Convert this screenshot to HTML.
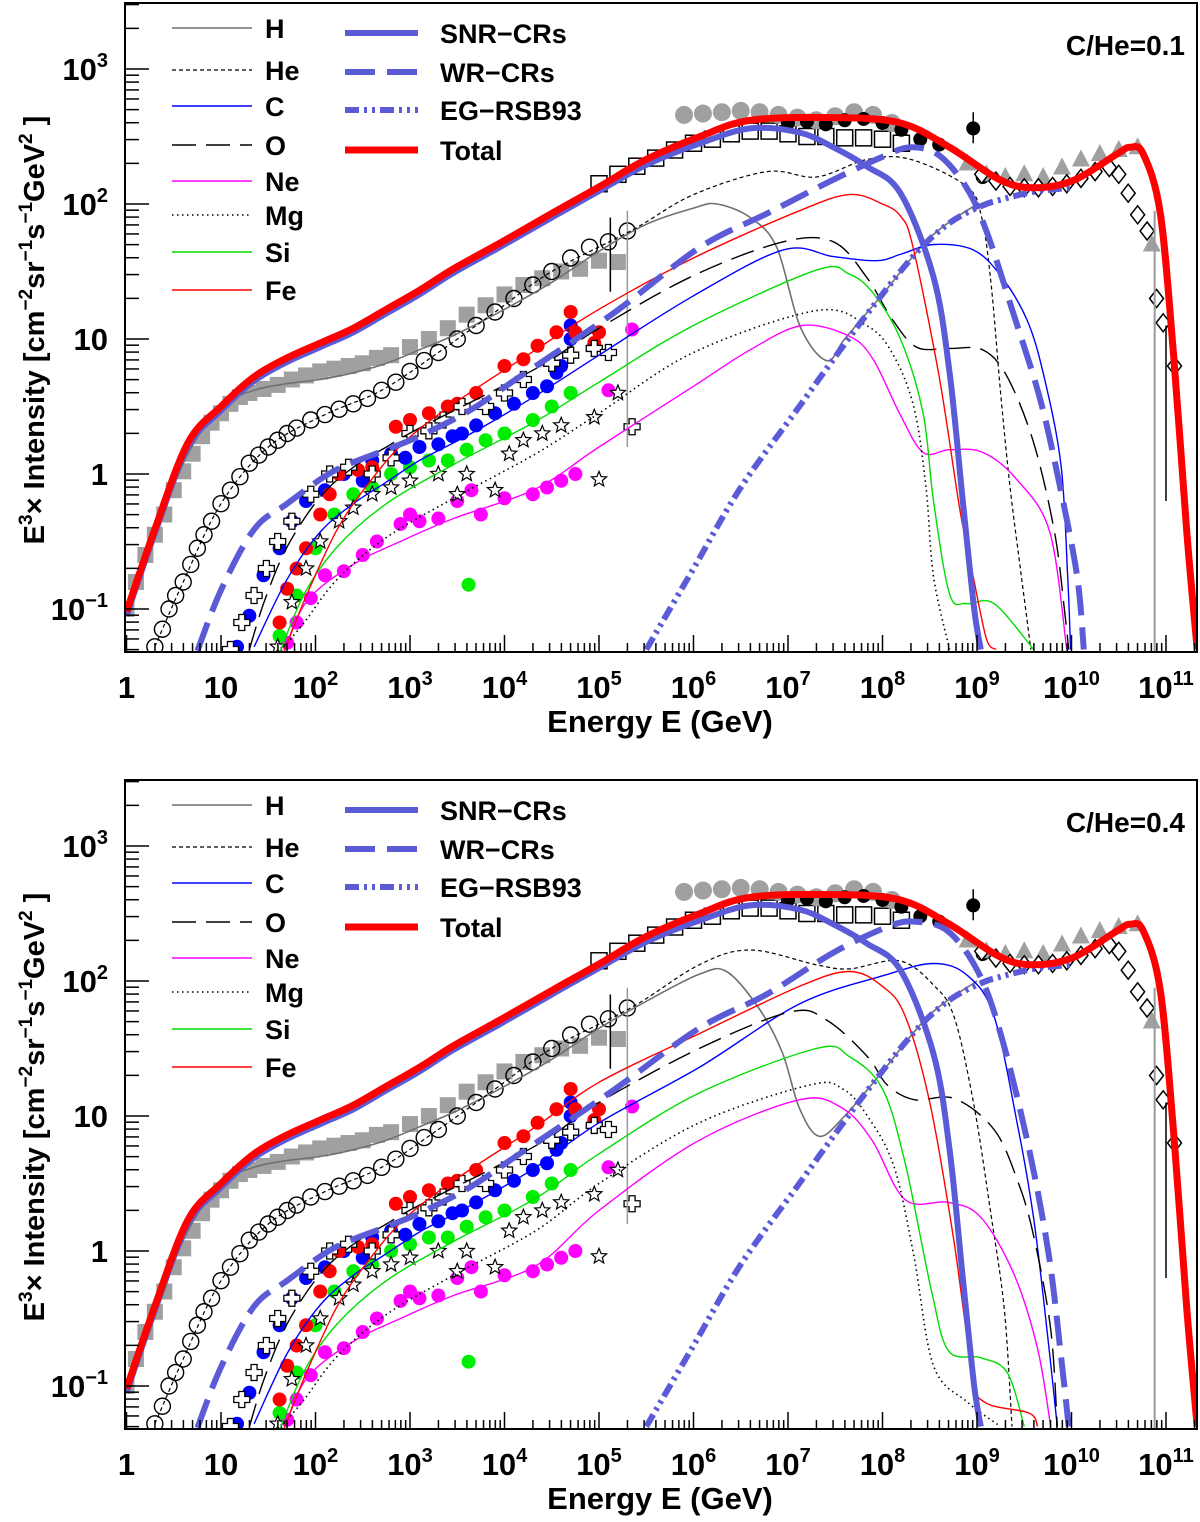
<!DOCTYPE html>
<html><head><meta charset="utf-8"><style>
body{margin:0;background:#fff}
svg text{font-family:"Liberation Sans",Arial,sans-serif;font-weight:bold}
</style></head><body>
<svg id="chart" xmlns="http://www.w3.org/2000/svg" width="1200" height="1517" viewBox="0 0 1200 1517"></svg>
<script>
// ---- shared data: [log10 E, log10 value] ----
const totalTop=[[0,-1.02],[0.3,-0.41],[0.65,0.23],[1.0,0.5],[1.35,0.72],[1.7,0.86],[2.05,0.97],[2.4,1.08],[2.75,1.22],[3.1,1.36],[3.46,1.52],[3.95,1.71],[4.5,1.93],[5.01,2.13],[5.5,2.33],[6.07,2.5],[6.6,2.62],[7.48,2.64],[8.19,2.6],[8.71,2.42],[9.24,2.18],[9.6,2.12],[10.02,2.175],[10.48,2.37],[10.62,2.42],[10.76,2.37],[10.94,1.93],[11.08,0.88],[11.22,-0.43],[11.33,-1.3]];
const snrTop=[[0,-1.05],[0.3,-0.44],[0.65,0.2],[1.0,0.47],[1.35,0.69],[1.7,0.83],[2.05,0.94],[2.4,1.05],[2.75,1.19],[3.1,1.33],[3.46,1.49],[3.95,1.68],[4.5,1.9],[5.01,2.1],[5.5,2.29],[6.07,2.45],[6.6,2.56],[7.12,2.53],[7.48,2.42],[7.83,2.28],[8.19,2.08],[8.54,1.46],[8.71,0.75],[8.85,-0.2],[8.97,-1.0],[9.04,-1.3]];
const wrTop=[[0.75,-1.31],[1.0,-0.86],[1.35,-0.41],[1.7,-0.22],[2.19,0.02],[2.75,0.18],[3.1,0.28],[3.63,0.47],[4.16,0.72],[5.15,1.19],[6.07,1.68],[6.78,1.93],[7.48,2.18],[8.0,2.35],[8.3,2.42],[8.6,2.36],[8.89,2.12],[9.1,1.8],[9.38,1.2],[9.67,0.55],[9.88,-0.1],[10.06,-0.76],[10.13,-1.3]];
const egTop=[[5.5,-1.3],[6,-0.7],[6.5,-0.1],[7.12,0.5],[7.48,0.85],[7.93,1.27],[8.36,1.64],[8.71,1.86],[9.03,1.98],[9.24,2.03],[9.6,2.09],[10.0,2.12]];
const hTop=[[0,-1.02],[0.3,-0.45],[0.65,0.15],[1.0,0.5],[1.35,0.62],[1.7,0.67],[2.05,0.7],[2.4,0.75],[2.75,0.82],[3.1,0.92],[3.5,1.04],[4,1.22],[4.5,1.42],[5,1.65],[5.5,1.85],[6.0,1.97],[6.25,2.0],[6.6,1.9],[6.88,1.68],[7.13,1.09],[7.41,0.84],[7.6,1.0],[8.0,1.33],[8.5,1.75],[9.0,2.0]];
const heTop=[[0.3,-1.28],[0.6,-0.8],[1.0,-0.22],[1.5,0.2],[2.1,0.44],[2.7,0.62],[3.3,0.9],[3.9,1.2],[4.5,1.5],[5.36,1.81],[6.0,2.07],[6.78,2.24],[7.3,2.2],[7.84,2.33],[8.3,2.33],[8.89,2.13],[9.05,1.9],[9.15,1.4],[9.25,0.6],[9.35,-0.1],[9.47,-0.76],[9.57,-1.3]];
const cTop=[[1.35,-1.28],[1.7,-0.78],[2.05,-0.43],[2.4,-0.22],[2.75,-0.06],[3.1,0.1],[3.46,0.23],[3.8,0.36],[4.33,0.58],[5,0.88],[6,1.32],[6.95,1.66],[7.48,1.61],[7.94,1.58],[8.2,1.63],[8.54,1.7],[8.96,1.66],[9.25,1.47],[9.53,1.14],[9.71,0.72],[9.89,0.06],[9.96,-0.76],[9.99,-1.3]];
const oTop=[[1.3,-1.3],[1.46,-0.94],[1.7,-0.54],[2.05,-0.17],[2.4,0.05],[2.75,0.2],[3.1,0.34],[4.33,0.78],[5,1.08],[6,1.47],[6.95,1.72],[7.48,1.72],[7.83,1.46],[8.1,1.15],[8.36,0.94],[8.71,0.93],[9.06,0.92],[9.32,0.72],[9.6,0.23],[9.82,-0.43],[9.92,-0.97],[9.97,-1.3]];
const neTop=[[1.67,-1.31],[1.91,-0.94],[2.4,-0.67],[2.93,-0.49],[3.46,-0.33],[4.33,-0.11],[5,0.2],[6,0.65],[6.6,0.92],[7.15,1.1],[7.65,1.02],[7.9,0.85],[8.18,0.45],[8.43,0.16],[8.71,0.18],[9.06,0.16],[9.42,-0.04],[9.77,-0.43],[9.95,-1.3]];
const mgTop=[[1.63,-1.31],[1.88,-1.1],[2.23,-0.78],[2.75,-0.47],[3.46,-0.18],[4.33,0.15],[5,0.45],[6,0.9],[7.3,1.21],[7.83,1.1],[8.1,0.9],[8.33,0.5],[8.46,-0.1],[8.54,-0.76],[8.71,-1.3]];
const siTop=[[1.63,-1.31],[1.88,-0.89],[2.23,-0.54],[2.75,-0.22],[3.46,0.07],[4.33,0.39],[5,0.68],[6,1.1],[7.3,1.51],[7.65,1.48],[7.9,1.34],[8.19,1.0],[8.43,0.45],[8.54,-0.2],[8.71,-0.89],[8.89,-0.96],[9.18,-0.96],[9.6,-1.3]];
const feTop=[[1.67,-1.31],[1.91,-0.89],[2.23,-0.41],[2.54,-0.09],[2.93,0.23],[3.46,0.52],[4.33,0.92],[5,1.22],[6,1.6],[7.12,1.95],[7.65,2.07],[8.0,2.0],[8.19,1.91],[8.32,1.69],[8.6,0.72],[8.82,-0.27],[8.96,-0.76],[9.1,-1.22],[9.2,-1.3]];
// bottom panel (C/He=0.4) curves that differ
const hBot=[[0,-1.02],[0.3,-0.45],[0.65,0.15],[1.0,0.5],[1.35,0.62],[1.7,0.67],[2.05,0.7],[2.4,0.75],[2.75,0.82],[3.1,0.92],[3.5,1.04],[4,1.22],[4.5,1.42],[5,1.65],[5.5,1.85],[6.06,2.05],[6.35,2.07],[6.69,1.8],[6.94,1.47],[7.12,1.06],[7.33,0.85],[7.6,1.0],[8.0,1.33],[8.5,1.75],[9.0,2.0]];
const heBot=[[0.3,-1.28],[0.6,-0.8],[1.0,-0.22],[1.5,0.2],[2.1,0.44],[2.7,0.62],[3.3,0.9],[3.9,1.2],[4.5,1.5],[5.36,1.81],[6.06,2.12],[6.6,2.23],[7.3,2.12],[7.65,2.09],[8.18,2.15],[8.54,1.97],[8.76,1.73],[8.97,1.07],[9.15,0.26],[9.29,-0.44],[9.37,-1.3]];
const cBot=[[1.35,-1.28],[1.7,-0.76],[2.05,-0.4],[2.4,-0.18],[2.75,-0.02],[3.1,0.14],[3.46,0.27],[3.8,0.4],[4.33,0.62],[5,0.95],[6.06,1.36],[7.12,1.83],[8.01,2.04],[8.54,2.13],[8.9,2.04],[9.18,1.74],[9.43,0.93],[9.6,0.24],[9.74,-0.58],[9.85,-1.3]];
const oBot=[[1.3,-1.3],[1.46,-0.94],[1.7,-0.54],[2.05,-0.17],[2.4,0.05],[2.75,0.2],[3.1,0.34],[4.33,0.78],[5,1.1],[6.06,1.5],[7.02,1.77],[7.41,1.71],[7.84,1.44],[8.05,1.23],[8.34,1.12],[8.76,1.13],[9.18,0.9],[9.43,0.52],[9.6,0.11],[9.78,-0.58],[9.85,-1.3]];
const neBot=[[1.67,-1.31],[1.91,-0.94],[2.4,-0.67],[2.93,-0.49],[3.46,-0.33],[4.33,-0.11],[5,0.3],[6.06,0.82],[7.12,1.12],[7.57,1.06],[7.89,0.82],[8.24,0.38],[8.7,0.36],[9.04,0.25],[9.39,-0.17],[9.64,-0.72],[9.78,-1.3]];
const mgBot=[[1.63,-1.31],[1.88,-1.1],[2.23,-0.78],[2.75,-0.47],[3.46,-0.18],[4.33,0.15],[5,0.5],[6.06,0.95],[7.23,1.23],[7.58,1.2],[7.84,1.0],[8.12,0.63],[8.33,-0.03],[8.54,-0.85],[8.9,-1.12],[9.25,-1.3]];
const siBot=[[1.63,-1.31],[1.88,-0.89],[2.23,-0.54],[2.75,-0.22],[3.46,0.07],[4.33,0.39],[5,0.72],[6.06,1.17],[7.3,1.5],[7.65,1.44],[8.0,1.2],[8.24,0.65],[8.52,-0.3],[8.7,-0.74],[9.04,-0.79],[9.32,-0.9],[9.5,-1.3]];
const feBot=[[1.67,-1.31],[1.91,-0.89],[2.23,-0.41],[2.54,-0.09],[2.93,0.23],[3.46,0.52],[4.33,0.92],[5,1.25],[6.06,1.61],[7.12,1.96],[7.65,2.07],[8.0,1.96],[8.24,1.74],[8.5,1.1],[8.75,0.1],[8.95,-0.9],[9.08,-1.12],[9.55,-1.2],[9.64,-1.3]];
const wrBot=[[0.75,-1.31],[1.0,-0.86],[1.35,-0.41],[1.7,-0.22],[2.19,0.02],[2.75,0.18],[3.1,0.28],[3.63,0.47],[4.16,0.72],[5.15,1.19],[6.06,1.65],[6.77,1.9],[7.48,2.21],[8.05,2.4],[8.34,2.44],[8.69,2.37],[9.01,2.07],[9.25,1.61],[9.54,0.79],[9.76,-0.03],[9.9,-0.85],[9.97,-1.3]];
// measured data points
const graySquares=[[0,-1.0],[0.1,-0.8],[0.2,-0.6],[0.3,-0.45],[0.4,-0.3],[0.5,-0.12],[0.6,0.02],[0.7,0.15],[0.8,0.28],[0.9,0.38],[1.0,0.45],[1.1,0.52],[1.2,0.57],[1.3,0.6],[1.45,0.63],[1.6,0.66],[1.75,0.7],[1.9,0.73],[2.05,0.76],[2.2,0.78],[2.35,0.8],[2.5,0.82],[2.65,0.86],[2.8,0.88],[3.0,0.94],[3.2,1.0],[3.4,1.08],[3.6,1.18],[3.8,1.25],[4.0,1.33],[4.2,1.4],[4.4,1.45],[4.6,1.5],[4.8,1.52],[5.0,1.58],[5.2,1.57]];
const openCircles=[[0.3,-1.28],[0.38,-1.15],[0.45,-1.0],[0.52,-0.9],[0.6,-0.8],[0.68,-0.67],[0.75,-0.55],[0.82,-0.45],[0.9,-0.35],[1.0,-0.22],[1.1,-0.12],[1.2,-0.02],[1.3,0.08],[1.4,0.14],[1.5,0.2],[1.6,0.25],[1.7,0.3],[1.8,0.34],[1.95,0.4],[2.1,0.44],[2.25,0.48],[2.4,0.52],[2.55,0.56],[2.7,0.62],[2.85,0.68],[3.0,0.76],[3.15,0.84],[3.3,0.9],[3.5,1.0],[3.7,1.1],[3.9,1.2],[4.1,1.3],[4.3,1.4],[4.5,1.5],[4.7,1.6],[4.9,1.68],[5.1,1.72],[5.3,1.8]];
const grayCircles=[[5.9,2.66],[6.1,2.67],[6.3,2.68],[6.5,2.69],[6.7,2.68],[6.9,2.66],[7.1,2.64],[7.3,2.62],[7.5,2.65],[7.7,2.68],[7.9,2.66],[8.1,2.6]];
const blackCircles=[[7.0,2.6],[7.2,2.61],[7.4,2.59],[7.6,2.62],[7.8,2.63],[8.0,2.6],[8.2,2.55],[8.4,2.48],[8.6,2.44],[8.96,2.56],[9.06,2.2]];
const openSquares=[[5.0,2.15],[5.2,2.22],[5.4,2.28],[5.6,2.34],[5.8,2.4],[6.0,2.45],[6.2,2.48],[6.4,2.52],[6.6,2.54],[6.8,2.54],[7.0,2.52],[7.2,2.5],[7.4,2.5],[7.6,2.49],[7.8,2.49],[8.0,2.48],[8.2,2.45]];
const triangles=[[8.9,2.3],[9.1,2.22],[9.3,2.2],[9.5,2.22],[9.7,2.2],[9.9,2.27],[10.1,2.33],[10.3,2.37],[10.5,2.4],[10.7,2.42],[10.85,1.7]];
const diamonds=[[9.05,2.22],[9.2,2.17],[9.35,2.13],[9.5,2.12],[9.65,2.12],[9.8,2.13],[9.95,2.15],[10.1,2.19],[10.25,2.24],[10.4,2.27],[10.5,2.22],[10.6,2.08],[10.7,1.92],[10.8,1.8],[10.9,1.3],[10.97,1.12],[11.09,0.8]];
const blueDots=[[1.17,-1.28],[1.3,-1.05],[1.45,-0.75],[1.62,-0.55],[1.75,-0.35],[1.9,-0.2],[2.1,-0.12],[2.3,0.0],[2.5,-0.05],[2.6,0.1],[2.8,0.15],[2.95,0.12],[3.1,0.2],[3.3,0.22],[3.45,0.28],[3.55,0.3],[3.7,0.36],[3.9,0.45],[4.1,0.52],[4.3,0.6],[4.45,0.65],[4.55,0.75],[4.6,0.8],[4.7,1.0],[4.7,1.1]];
const redDots=[[1.62,-1.1],[1.7,-0.85],[1.8,-0.7],[1.9,-0.55],[2.05,-0.3],[2.15,-0.15],[2.25,0.0],[2.45,0.03],[2.6,0.05],[2.85,0.35],[3.0,0.4],[3.2,0.45],[3.4,0.5],[3.5,0.52],[3.7,0.6],[4.0,0.8],[4.2,0.85],[4.35,0.95],[4.55,1.05],[4.7,1.2],[4.75,1.05],[4.95,0.97],[5.0,1.05]];
const greenDots=[[1.62,-1.2],[1.8,-0.9],[2.0,-0.55],[2.2,-0.3],[2.4,-0.15],[2.6,-0.1],[2.8,0.0],[3.0,0.05],[3.2,0.1],[3.4,0.1],[3.6,0.18],[3.8,0.25],[4.0,0.3],[4.3,0.4],[4.5,0.5],[4.7,0.6],[3.62,-0.82]];
const magentaDots=[[1.7,-1.25],[1.8,-1.1],[1.95,-0.92],[2.1,-0.75],[2.3,-0.72],[2.5,-0.6],[2.65,-0.5],[2.9,-0.37],[3.0,-0.3],[3.1,-0.35],[3.3,-0.33],[3.5,-0.2],[3.65,-0.12],[3.75,-0.3],[4.0,-0.18],[4.3,-0.15],[4.45,-0.1],[4.6,-0.05],[4.75,0.0],[5.1,0.62],[5.35,1.07]];
const crosses=[[1.1,-1.3],[1.22,-1.1],[1.35,-0.9],[1.48,-0.7],[1.6,-0.5],[1.75,-0.35],[1.95,-0.15],[2.15,0.0],[2.35,0.05],[2.6,0.0],[2.8,0.12],[3.0,0.3],[3.2,0.32],[3.35,0.4],[3.55,0.5],[3.8,0.5],[4.0,0.6],[4.2,0.7],[4.5,0.82],[4.7,0.88],[4.95,0.93],[5.1,0.9],[5.35,0.35]];
const stars=[[1.6,-1.28],[1.75,-0.95],[1.9,-0.7],[2.05,-0.5],[2.25,-0.35],[2.4,-0.25],[2.6,-0.15],[2.8,-0.1],[3.0,-0.05],[3.3,0.0],[3.5,-0.15],[3.6,0.0],[3.9,-0.12],[4.05,0.15],[4.2,0.25],[4.4,0.3],[4.6,0.36],[4.95,0.42],[5.2,0.6],[5.0,-0.04]];
const xTickLabels=["1","10","10","10","10","10","10","10","10","10","10","10"];
const xTickExps=["","","2","3","4","5","6","7","8","9","10","11"];
const yTickVals=[-1,0,1,2,3];

const NS="http://www.w3.org/2000/svg";
const svg=document.getElementById('chart');
function el(tag,attrs,parent){const e=document.createElementNS(NS,tag);for(const k in attrs)e.setAttribute(k,attrs[k]);(parent||svg).appendChild(e);return e;}
const L=125,R=1197,X0=126.5,DX=94.5,DY=135,Y1=474;
function X(l){return X0+DX*l;}

function panel(off,c,label,idx){
  const top=3+off,bot=652+off;
  function Y(l){return Y1+off-DY*l;}
  const g=el('g',{});
  
  
  const cp=el('clipPath',{id:'clip'+idx},g);
  el('rect',{x:L,y:top,width:R-L,height:bot-top},cp);
  const plot=el('g',{'clip-path':'url(#clip'+idx+')'},g);
  function pts(arr,name,draw){const mg=el('g',{},plot);arr.forEach(p=>draw(mg,X(p[0]),Y(p[1])));}
  pts(graySquares,'proton-data-squares',(m,x,y)=>el('rect',{x:x-8,y:y-8,width:16,height:16,fill:'#a0a0a0'},m));
  pts(openSquares,'open-square-data',(m,x,y)=>el('rect',{x:x-8,y:y-8,width:16,height:16,fill:'#fff',stroke:'#000','stroke-width':1.5},m));
  pts(grayCircles,'gray-circle-data',(m,x,y)=>el('circle',{cx:x,cy:y,r:9,fill:'#a0a0a0'},m));
  pts(blackCircles,'black-circle-data',(m,x,y)=>el('circle',{cx:x,cy:y,r:7,fill:'#000'},m));
  pts(triangles,'triangle-data',(m,x,y)=>el('polygon',{points:`${x},${y-10} ${x-9},${y+7} ${x+9},${y+7}`,fill:'#a0a0a0'},m));
  pts(diamonds,'diamond-data',(m,x,y)=>el('polygon',{points:`${x},${y-9} ${x+7},${y} ${x},${y+9} ${x-7},${y}`,fill:'#fff',stroke:'#000','stroke-width':1.5},m));
  pts(openCircles,'helium-data-circles',(m,x,y)=>el('circle',{cx:x,cy:y,r:8,fill:'none',stroke:'#000','stroke-width':1.4},m));
  pts(magentaDots,'neon-data',(m,x,y)=>el('circle',{cx:x,cy:y,r:7,fill:'#ff00ff'},m));
  pts(greenDots,'silicon-data',(m,x,y)=>el('circle',{cx:x,cy:y,r:7,fill:'#00ee00'},m));
  pts(blueDots,'carbon-data',(m,x,y)=>el('circle',{cx:x,cy:y,r:7,fill:'#0000ff'},m));
  pts(redDots,'iron-data',(m,x,y)=>el('circle',{cx:x,cy:y,r:7,fill:'#ff0000'},m));
  pts(crosses,'oxygen-data-crosses',(m,x,y)=>el('path',{d:`M${x-3},${y-8}h6v5h5v6h-5v5h-6v-5h-5v-6h5z`,fill:'#fff',stroke:'#000','stroke-width':1.3},m));
  pts(stars,'star-data',(m,x,y)=>{let s='';for(let i=0;i<10;i++){const r=i%2?3.5:8,a=-Math.PI/2+i*Math.PI/5;s+=(x+r*Math.cos(a)).toFixed(1)+','+(y+r*Math.sin(a)).toFixed(1)+' ';}el('polygon',{points:s,fill:'#fff',stroke:'#000','stroke-width':1.2},m);});
  el('line',{x1:X(10.88),y1:Y(1.95),x2:X(10.88),y2:bot,stroke:'#999','stroke-width':2},plot);
  el('line',{x1:X(11.0),y1:Y(1.1),x2:X(11.0),y2:Y(-0.2),stroke:'#000','stroke-width':1.5},plot);
  el('line',{x1:X(5.3),y1:Y(1.95),x2:X(5.3),y2:Y(0.2),stroke:'#999','stroke-width':1.5},plot);
  el('line',{x1:X(5.12),y1:Y(1.9),x2:X(5.12),y2:Y(1.35),stroke:'#000','stroke-width':1.5},plot);
  el('line',{x1:X(8.96),y1:Y(2.68),x2:X(8.96),y2:Y(2.45),stroke:'#000','stroke-width':1.5},plot);
  function curve(arr,name,st){
    const p=arr.map(q=>[X(q[0]),Y(q[1])]);
    let d='M'+p[0][0].toFixed(1)+','+p[0][1].toFixed(1);
    for(let i=0;i<p.length-1;i++){const p0=p[Math.max(i-1,0)],p1=p[i],p2=p[i+1],p3=p[Math.min(i+2,p.length-1)];
      const c1=[p1[0]+(p2[0]-p0[0])/6,p1[1]+(p2[1]-p0[1])/6],c2=[p2[0]-(p3[0]-p1[0])/6,p2[1]-(p3[1]-p1[1])/6];
      d+='C'+c1[0].toFixed(1)+','+c1[1].toFixed(1)+' '+c2[0].toFixed(1)+','+c2[1].toFixed(1)+' '+p2[0].toFixed(1)+','+p2[1].toFixed(1);}
    const e=el('path',Object.assign({d:d,fill:'none','stroke-linejoin':'round'},st),plot);}
  curve(c.h,'h-curve',{stroke:'#707070','stroke-width':1.6});
  curve(c.he,'he-curve',{stroke:'#000','stroke-width':1.2,'stroke-dasharray':'4,3'});
  curve(c.c,'c-curve',{stroke:'#0000ff','stroke-width':1.4});
  curve(c.o,'o-curve',{stroke:'#000','stroke-width':1.4,'stroke-dasharray':'24,10'});
  curve(c.ne,'ne-curve',{stroke:'#ff00ff','stroke-width':1.4});
  curve(c.mg,'mg-curve',{stroke:'#000','stroke-width':1.6,'stroke-dasharray':'1.5,3.5'});
  curve(c.si,'si-curve',{stroke:'#00dd00','stroke-width':1.4});
  curve(c.fe,'fe-curve',{stroke:'#ff0000','stroke-width':1.4});
  curve(c.eg,'eg-rsb93-curve',{stroke:'#5b5bd8','stroke-width':6,'stroke-dasharray':'14,5,3,5,3,5'});
  curve(c.wr,'wr-crs-curve',{stroke:'#5b5bd8','stroke-width':6,'stroke-dasharray':'30,12'});
  curve(c.snr,'snr-crs-curve',{stroke:'#5b5bd8','stroke-width':6});
  curve(c.total,'total-curve',{stroke:'#ff0000','stroke-width':7});
  const fr=el('rect',{x:L,y:top,width:R-L,height:bot-top,fill:'none',stroke:'#000','stroke-width':2},g);
  
  const xa=el('g',{},g);
  for(let d=-1;d<=11;d++){for(let k=1;k<10;k++){const l=d+Math.log10(k);const x=X(l);if(x<L||x>R)continue;el('line',{x1:x,y1:bot,x2:x,y2:bot-(k==1?17:9),stroke:'#000','stroke-width':1.5},xa);}}
  xTickLabels.forEach((t,i)=>{const tx=el('text',{x:X(i),y:bot+46,'font-size':31,'text-anchor':'middle'},xa);tx.textContent=t;if(xTickExps[i]){const s=el('tspan',{'font-size':20,dy:-13},tx);s.textContent=xTickExps[i];}});
  const xt=el('text',{x:660,y:bot+80,'font-size':31,'text-anchor':'middle'},xa);xt.textContent='Energy E (GeV)';
  
  const ya=el('g',{},g);
  for(let d=-2;d<=3;d++){for(let k=1;k<10;k++){const l=d+Math.log10(k);const y=Y(l);if(y<top||y>bot)continue;el('line',{x1:L,y1:y,x2:L+(k==1?24:14),y2:y,stroke:'#000','stroke-width':1.5},ya);}}
  yTickVals.forEach(v=>{const t=el('text',{x:108,y:Y(v)+11,'font-size':31,'text-anchor':'end'},ya);
    if(v==0)t.textContent='1';else if(v==1)t.textContent='10';else{t.textContent='10';const s=el('tspan',{'font-size':20,dy:-13},t);s.textContent=v<0?'\u22121':String(v);}});
  const yt=el('text',{x:0,y:0,'font-size':29,'text-anchor':'middle',transform:`translate(44,${330+off}) rotate(-90)`},ya);
  
  yt.innerHTML='E<tspan font-size="19" dy="-12">3</tspan><tspan dy="12">\u00d7 Intensity [cm</tspan><tspan font-size="19" dy="-12">\u22122</tspan><tspan dy="12">sr</tspan><tspan font-size="19" dy="-12">\u22121</tspan><tspan dy="12">s</tspan><tspan font-size="19" dy="-12">\u22121</tspan><tspan dy="12">GeV</tspan><tspan font-size="19" dy="-12">2</tspan><tspan dy="12"> ]</tspan>';
  const lg=el('g',{},g);
  const left=[['H',28,{stroke:'#707070','stroke-width':1.6}],['He',70,{stroke:'#000','stroke-width':1.2,'stroke-dasharray':'4,3'}],['C',106,{stroke:'#0000ff','stroke-width':1.4}],['O',145,{stroke:'#000','stroke-width':1.4,'stroke-dasharray':'24,10'}],['Ne',181,{stroke:'#ff00ff','stroke-width':1.4}],['Mg',215,{stroke:'#000','stroke-width':1.6,'stroke-dasharray':'1.5,3.5'}],['Si',252,{stroke:'#00dd00','stroke-width':1.4}],['Fe',290,{stroke:'#ff0000','stroke-width':1.4}]];
  const right=[['SNR\u2212CRs',33,{stroke:'#5b5bd8','stroke-width':6}],['WR\u2212CRs',72,{stroke:'#5b5bd8','stroke-width':6,'stroke-dasharray':'30,12'}],['EG\u2212RSB93',110,{stroke:'#5b5bd8','stroke-width':6,'stroke-dasharray':'14,5,3,5,3,5'}],['Total',150,{stroke:'#ff0000','stroke-width':7}]];
  left.forEach(e=>{const en=el('g',{},lg);el('line',Object.assign({x1:172,x2:252,y1:e[1]+off,y2:e[1]+off},e[2]),en);const t=el('text',{x:265,y:e[1]+off+10,'font-size':27},en);t.textContent=e[0];});
  right.forEach(e=>{const en=el('g',{},lg);el('line',Object.assign({x1:345,x2:418,y1:e[1]+off,y2:e[1]+off},e[2]),en);const t=el('text',{x:440,y:e[1]+off+10,'font-size':27},en);t.textContent=e[0];});
  const lb=el('text',{x:1185,y:55+off,'font-size':28,'text-anchor':'end'},g);lb.textContent=label;
  
}
panel(0,{h:hTop,he:heTop,c:cTop,o:oTop,ne:neTop,mg:mgTop,si:siTop,fe:feTop,eg:egTop,wr:wrTop,snr:snrTop,total:totalTop},'C/He=0.1','top');
panel(777,{h:hBot,he:heBot,c:cBot,o:oBot,ne:neBot,mg:mgBot,si:siBot,fe:feBot,eg:egTop,wr:wrBot,snr:snrTop,total:totalTop},'C/He=0.4','bottom');
</script>
</body></html>
